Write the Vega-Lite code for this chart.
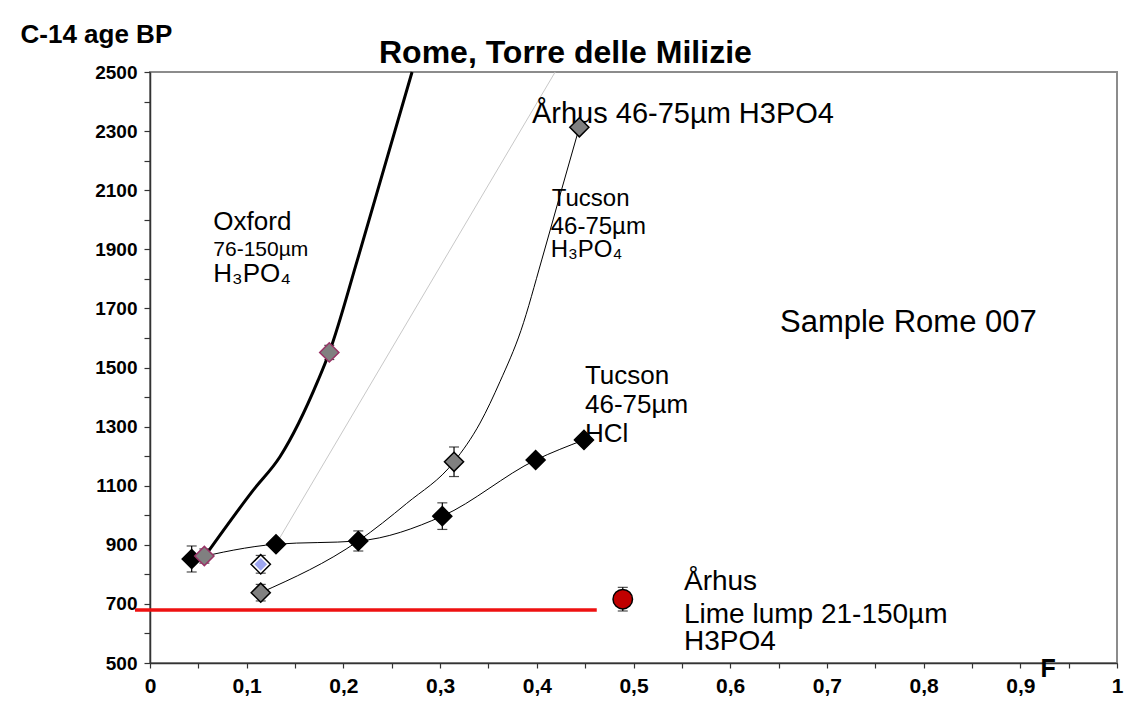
{
  "$schema": "https://vega.github.io/schema/vega-lite/v6.json",
  "autosize": {"type": "none"},
  "padding": {"left": 150, "top": 72, "right": 10, "bottom": 49},
  "width": 967,
  "height": 591,
  "background": "white",
  "config": {
    "font": "Liberation Sans",
    "view": {"stroke": "#8c8c8c", "strokeWidth": 2},
    "axis": {"grid": false, "domainColor": "#333333", "domainWidth": 1.5, "tickColor": "#333333", "tickWidth": 1.2, "labelColor": "black", "titleColor": "black", "labelFont": "Liberation Sans", "titleFont": "Liberation Sans", "labelFontWeight": "bold", "titleFontWeight": "bold", "labelOverlap": false, "labelFlush": false}
  },
  "datasets": {
    "curves": [
      {"series": "Aarhus 46-75 H3PO4 trend", "x": 0.1303, "age": 902},
      {"series": "Aarhus 46-75 H3PO4 trend", "x": 0.419, "age": 2500},
      {"series": "Tucson 46-75 H3PO4", "x": 0.1145, "age": 738},
      {"series": "Tucson 46-75 H3PO4", "x": 0.2154, "age": 913},
      {"series": "Tucson 46-75 H3PO4", "x": 0.2654, "age": 1040},
      {"series": "Tucson 46-75 H3PO4", "x": 0.3144, "age": 1181},
      {"series": "Tucson 46-75 H3PO4", "x": 0.3413, "age": 1312},
      {"series": "Tucson 46-75 H3PO4", "x": 0.3619, "age": 1452},
      {"series": "Tucson 46-75 H3PO4", "x": 0.3836, "age": 1625},
      {"series": "Tucson 46-75 H3PO4", "x": 0.4051, "age": 1864},
      {"series": "Tucson 46-75 H3PO4", "x": 0.4226, "age": 2067},
      {"series": "Tucson 46-75 H3PO4", "x": 0.444, "age": 2313},
      {"series": "Tucson 46-75 HCl", "x": 0.0431, "age": 852},
      {"series": "Tucson 46-75 HCl", "x": 0.1303, "age": 902},
      {"series": "Tucson 46-75 HCl", "x": 0.2154, "age": 913},
      {"series": "Tucson 46-75 HCl", "x": 0.3023, "age": 997},
      {"series": "Tucson 46-75 HCl", "x": 0.3988, "age": 1187},
      {"series": "Tucson 46-75 HCl", "x": 0.4488, "age": 1255},
      {"series": "Oxford 76-150 H3PO4", "x": 0.0569, "age": 862},
      {"series": "Oxford 76-150 H3PO4", "x": 0.1068, "age": 1085},
      {"series": "Oxford 76-150 H3PO4", "x": 0.1344, "age": 1198},
      {"series": "Oxford 76-150 H3PO4", "x": 0.174, "age": 1458},
      {"series": "Oxford 76-150 H3PO4", "x": 0.1854, "age": 1551},
      {"series": "Oxford 76-150 H3PO4", "x": 0.2145, "age": 1864},
      {"series": "Oxford 76-150 H3PO4", "x": 0.2445, "age": 2202},
      {"series": "Oxford 76-150 H3PO4", "x": 0.271, "age": 2500}
    ],
    "points": [
      {"series": "Tucson HCl", "x": 0.0431, "age": 852, "lo": 808, "hi": 896},
      {"series": "Tucson HCl", "x": 0.1303, "age": 902},
      {"series": "Tucson HCl", "x": 0.2154, "age": 913, "lo": 879, "hi": 947},
      {"series": "Tucson HCl", "x": 0.3023, "age": 997, "lo": 952, "hi": 1042},
      {"series": "Tucson HCl", "x": 0.3988, "age": 1187},
      {"series": "Tucson HCl", "x": 0.4488, "age": 1255},
      {"series": "Tucson H3PO4", "x": 0.1145, "age": 738, "lo": 710, "hi": 766},
      {"series": "Tucson H3PO4", "x": 0.3144, "age": 1181, "lo": 1131, "hi": 1231},
      {"series": "Tucson H3PO4", "x": 0.444, "age": 2313},
      {"series": "Oxford H3PO4", "x": 0.0562, "age": 862, "lo": 838, "hi": 886},
      {"series": "Oxford H3PO4", "x": 0.1854, "age": 1551, "lo": 1527, "hi": 1575},
      {"series": "Aarhus H3PO4", "x": 0.1145, "age": 834, "lo": 804, "hi": 864},
      {"series": "Aarhus lime lump", "x": 0.4889, "age": 716, "lo": 676, "hi": 756}
    ],
    "notes": [
      {"block": "title", "line": "Rome, Torre delle Milizie", "x": 0.2368, "age": 2530},
      {"block": "sample", "line": "Sample Rome 007", "x": 0.6515, "age": 1621},
      {"block": "aarhus-top", "line": "Århus 46-75µm H3PO4", "x": 0.395, "age": 2328},
      {"block": "aarhus-lump", "line": "Århus", "x": 0.5522, "age": 747},
      {"block": "aarhus-lump", "line": "Lime lump 21-150µm", "x": 0.5522, "age": 634},
      {"block": "aarhus-lump", "line": "H3PO4", "x": 0.5522, "age": 544},
      {"block": "tucson-hcl", "line": "Tucson", "x": 0.4498, "age": 1443},
      {"block": "tucson-hcl", "line": "46-75µm", "x": 0.4498, "age": 1345},
      {"block": "tucson-hcl", "line": "HCl", "x": 0.4498, "age": 1249},
      {"block": "oxford", "line": "Oxford", "x": 0.0655, "age": 1965},
      {"block": "oxford", "line": "H₃PO₄", "x": 0.0655, "age": 1790},
      {"block": "oxford-size", "line": "76-150µm", "x": 0.0655, "age": 1877},
      {"block": "tucson-h3po4", "line": "Tucson", "x": 0.4154, "age": 2046},
      {"block": "tucson-h3po4", "line": "46-75µm", "x": 0.4144, "age": 1952},
      {"block": "tucson-h3po4", "line": "H₃PO₄", "x": 0.4144, "age": 1875}
    ],
    "reference": [
      {"x": -0.0155, "x_end": 0.462, "age": 679}
    ]
  },
  "encoding": {
    "x": {
      "field": "x",
      "type": "quantitative",
      "scale": {"domain": [0, 1], "nice": false, "zero": false},
      "axis": {
        "title": "F",
        "titleX": 890,
        "titleY": 13,
        "titleAlign": "left",
        "titleBaseline": "alphabetic",
        "titleFontSize": 25,
        "values": [0, 0.05, 0.1, 0.15, 0.2, 0.25, 0.3, 0.35, 0.4, 0.45, 0.5, 0.55, 0.6, 0.65, 0.7, 0.75, 0.8, 0.85, 0.9, 0.95, 1],
        "format": ".2~f",
        "labelExpr": "round(datum.value * 100) % 10 == 0 ? replace(datum.label, '.', ',') : ''",
        "labelFontSize": 21,
        "labelPadding": 7,
        "tickSize": 5
      }
    },
    "y": {
      "field": "age",
      "type": "quantitative",
      "scale": {"domain": [500, 2500], "nice": false, "zero": false},
      "axis": {
        "title": "C-14 age BP",
        "titleAngle": 0,
        "titleAlign": "left",
        "titleBaseline": "alphabetic",
        "titleX": -130,
        "titleY": -30,
        "titleFontSize": 26,
        "values": [500, 600, 700, 800, 900, 1000, 1100, 1200, 1300, 1400, 1500, 1600, 1700, 1800, 1900, 2000, 2100, 2200, 2300, 2400, 2500],
        "format": "d",
        "labelExpr": "datum.value % 200 == 0 ? '' : datum.label",
        "labelFontSize": 19,
        "labelPadding": 7,
        "tickSize": 6
      }
    }
  },
  "layer": [
    {
      "data": {"name": "curves"},
      "transform": [{"filter": "datum.series == 'Aarhus 46-75 H3PO4 trend'"}],
      "mark": {"type": "line", "color": "#c8c8c8", "strokeWidth": 1},
      "encoding": {"detail": {"field": "series"}}
    },
    {
      "data": {"name": "curves"},
      "transform": [{"filter": "datum.series == 'Tucson 46-75 H3PO4' || datum.series == 'Tucson 46-75 HCl'"}],
      "mark": {"type": "line", "color": "black", "strokeWidth": 1, "interpolate": "monotone"},
      "encoding": {"detail": {"field": "series"}}
    },
    {
      "data": {"name": "curves"},
      "transform": [{"filter": "datum.series == 'Oxford 76-150 H3PO4'"}],
      "mark": {"type": "line", "color": "black", "strokeWidth": 3, "interpolate": "monotone"},
      "encoding": {"detail": {"field": "series"}}
    },
    {
      "data": {"name": "reference"},
      "mark": {"type": "rule", "color": "#ee1111", "strokeWidth": 3.5},
      "encoding": {"x2": {"field": "x_end"}}
    },
    {
      "data": {"name": "notes"},
      "transform": [{"filter": "datum.block == 'title'"}],
      "mark": {"type": "text", "align": "left", "baseline": "alphabetic", "fontSize": 32, "fontWeight": "bold", "color": "black"},
      "encoding": {"text": {"field": "line"}}
    },
    {
      "data": {"name": "notes"},
      "transform": [{"filter": "datum.block == 'sample'"}],
      "mark": {"type": "text", "align": "left", "baseline": "alphabetic", "fontSize": 31, "color": "black"},
      "encoding": {"text": {"field": "line"}}
    },
    {
      "data": {"name": "notes"},
      "transform": [{"filter": "datum.block == 'aarhus-top'"}],
      "mark": {"type": "text", "align": "left", "baseline": "alphabetic", "fontSize": 29, "color": "black"},
      "encoding": {"text": {"field": "line"}}
    },
    {
      "data": {"name": "notes"},
      "transform": [{"filter": "datum.block == 'aarhus-lump'"}],
      "mark": {"type": "text", "align": "left", "baseline": "alphabetic", "fontSize": 28, "color": "black"},
      "encoding": {"text": {"field": "line"}}
    },
    {
      "data": {"name": "notes"},
      "transform": [{"filter": "datum.block == 'tucson-hcl' || datum.block == 'oxford'"}],
      "mark": {"type": "text", "align": "left", "baseline": "alphabetic", "fontSize": 26, "color": "black"},
      "encoding": {"text": {"field": "line"}}
    },
    {
      "data": {"name": "notes"},
      "transform": [{"filter": "datum.block == 'tucson-h3po4'"}],
      "mark": {"type": "text", "align": "left", "baseline": "alphabetic", "fontSize": 24, "color": "black"},
      "encoding": {"text": {"field": "line"}}
    },
    {
      "data": {"name": "notes"},
      "transform": [{"filter": "datum.block == 'oxford-size'"}],
      "mark": {"type": "text", "align": "left", "baseline": "alphabetic", "fontSize": 21, "color": "black"},
      "encoding": {"text": {"field": "line"}}
    },
    {
      "data": {"name": "points"},
      "transform": [{"filter": "isValid(datum.lo)"}],
      "mark": {"type": "rule", "color": "black", "strokeWidth": 1.2},
      "encoding": {"y": {"field": "lo"}, "y2": {"field": "hi"}}
    },
    {
      "data": {"name": "points"},
      "transform": [{"filter": "isValid(datum.lo)"}],
      "mark": {"type": "tick", "orient": "horizontal", "color": "black", "size": 10, "thickness": 1.2},
      "encoding": {"y": {"field": "lo"}}
    },
    {
      "data": {"name": "points"},
      "transform": [{"filter": "isValid(datum.hi)"}],
      "mark": {"type": "tick", "orient": "horizontal", "color": "black", "size": 10, "thickness": 1.2},
      "encoding": {"y": {"field": "hi"}}
    },
    {
      "data": {"name": "points"},
      "mark": {"type": "point", "filled": true, "opacity": 1, "strokeWidth": 1.5},
      "encoding": {
        "shape": {"field": "series", "scale": {"domain": ["Tucson HCl", "Tucson H3PO4", "Oxford H3PO4", "Aarhus H3PO4", "Aarhus lime lump"], "range": ["diamond", "diamond", "diamond", "diamond", "circle"]}, "legend": null},
        "fill": {"field": "series", "scale": {"domain": ["Tucson HCl", "Tucson H3PO4", "Oxford H3PO4", "Aarhus H3PO4", "Aarhus lime lump"], "range": ["#000000", "#808080", "#808080", "#ffffff", "#c00000"]}, "legend": null},
        "stroke": {"field": "series", "scale": {"domain": ["Tucson HCl", "Tucson H3PO4", "Oxford H3PO4", "Aarhus H3PO4", "Aarhus lime lump"], "range": ["#000000", "#000000", "#993366", "#000000", "#000000"]}, "legend": null},
        "size": {"field": "series", "type": "nominal", "scale": {"domain": ["Tucson HCl", "Tucson H3PO4", "Oxford H3PO4", "Aarhus H3PO4", "Aarhus lime lump"], "range": [361, 380, 225, 330, 370]}, "legend": null}
      }
    },
    {
      "data": {"name": "points"},
      "transform": [{"filter": "datum.series == 'Aarhus H3PO4'"}],
      "mark": {"type": "point", "shape": "diamond", "filled": true, "opacity": 1, "fill": "#9ea6f0", "strokeWidth": 0, "size": 160}
    }
  ]
}
